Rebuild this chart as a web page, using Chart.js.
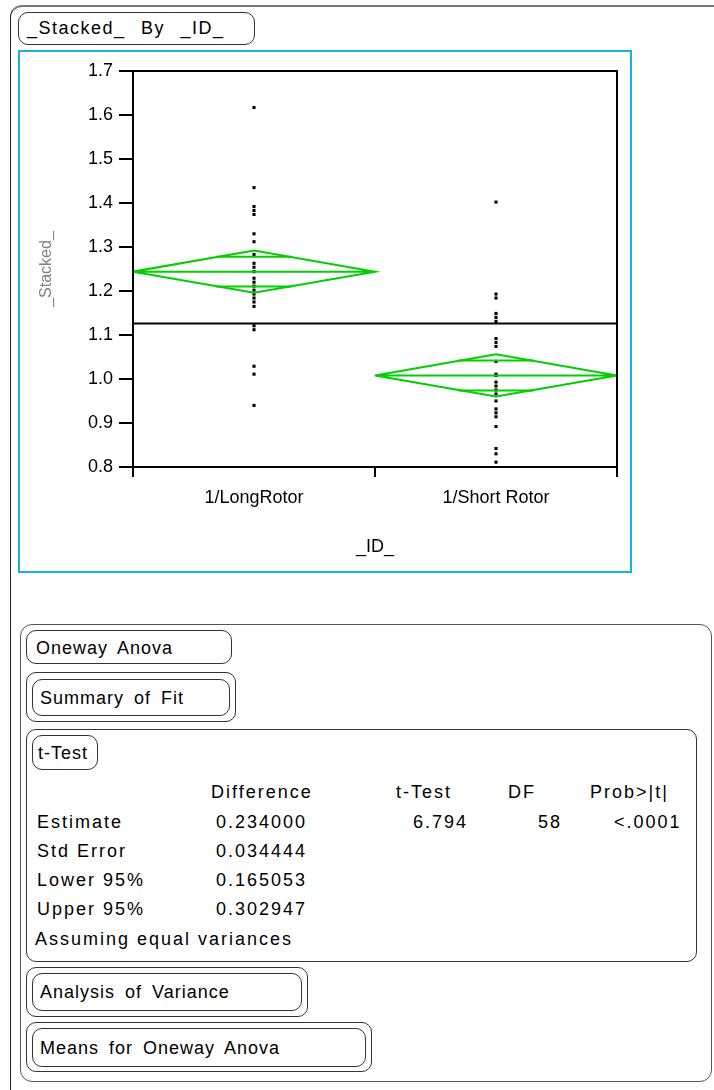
<!DOCTYPE html>
<html lang="en">
<head>
<meta charset="UTF-8">
<title>Oneway Analysis of _Stacked_ By _ID_</title>
<script src="https://cdn.jsdelivr.net/npm/chart.js"></script>
<style>
  body { margin: 0; width: 714px; height: 1090px; background: #fff; position: relative; overflow: hidden;
         font-family: "Liberation Sans", Arial, sans-serif; color: #000; }
  .abs { position: absolute; box-sizing: border-box; }
  .outer { left: 10px; top: 5px; width: 740px; height: 1120px; border-left: 1px solid #222; border-top: 2px solid #777; border-top-left-radius: 12px; }
  .box { border: 1px solid #333; border-radius: 10px; }
  .lbl { font-size: 18px; letter-spacing: 1px; word-spacing: 4px; line-height: 20px; white-space: nowrap; }
  .cell { font-size: 18px; letter-spacing: 2px; line-height: 20px; white-space: nowrap; }
  .blue { left: 18px; top: 50px; width: 614px; height: 523px; border: 2px solid #19b0ea; }
  #chart { position: absolute; left: 19px; top: 51px; }
</style>
</head>
<body>
<div class="abs outer"></div>
<div class="abs box" style="left:18px;top:12px;width:237px;height:33px;"></div>
<div class="abs lbl" style="left:27px;top:18px;word-spacing:9px;letter-spacing:1.5px;">_Stacked_ By _ID_</div>
<div class="abs blue"></div>
<canvas id="chart" width="612" height="521"></canvas>

<div class="abs box" style="left:20px;top:624px;width:692px;height:458px;border-color:#555;border-radius:12px;"></div>
<div class="abs box" style="left:26px;top:630px;width:206px;height:34px;"></div>
<div class="abs lbl" style="left:36px;top:638px;">Oneway Anova</div>

<div class="abs box" style="left:26px;top:672px;width:210px;height:50px;"></div>
<div class="abs box" style="left:32px;top:679px;width:198px;height:37px;"></div>
<div class="abs lbl" style="left:40px;top:688px;">Summary of Fit</div>

<div class="abs box" style="left:26px;top:729px;width:671px;height:233px;"></div>
<div class="abs box" style="left:32px;top:735px;width:66px;height:35px;"></div>
<div class="abs lbl" style="left:38px;top:743px;">t-Test</div>

<div class="abs cell" style="left:211px;top:782px;">Difference</div>
<div class="abs cell" style="left:396px;top:782px;">t-Test</div>
<div class="abs cell" style="left:508px;top:782px;">DF</div>
<div class="abs cell" style="left:590px;top:782px;">Prob&gt;|t|</div>

<div class="abs cell" style="left:37px;top:812px;">Estimate</div>
<div class="abs cell" style="left:216px;top:812px;">0.234000</div>
<div class="abs cell" style="left:413px;top:812px;">6.794</div>
<div class="abs cell" style="left:538px;top:812px;">58</div>
<div class="abs cell" style="left:614px;top:812px;">&lt;.0001</div>

<div class="abs cell" style="left:37px;top:841px;">Std Error</div>
<div class="abs cell" style="left:216px;top:841px;">0.034444</div>
<div class="abs cell" style="left:37px;top:870px;">Lower 95%</div>
<div class="abs cell" style="left:216px;top:870px;">0.165053</div>
<div class="abs cell" style="left:37px;top:899px;">Upper 95%</div>
<div class="abs cell" style="left:216px;top:899px;">0.302947</div>
<div class="abs cell" style="left:35px;top:929px;">Assuming equal variances</div>

<div class="abs box" style="left:26px;top:967px;width:282px;height:50px;"></div>
<div class="abs box" style="left:32px;top:973px;width:270px;height:38px;"></div>
<div class="abs lbl" style="left:40px;top:982px;">Analysis of Variance</div>

<div class="abs box" style="left:26px;top:1022px;width:346px;height:50px;"></div>
<div class="abs box" style="left:32px;top:1028px;width:334px;height:39px;"></div>
<div class="abs lbl" style="left:40px;top:1038px;">Means for Oneway Anova</div>

<script>
// groups and raw values
const groups = ['1/LongRotor', '1/Short Rotor'];
const longRotor = [1.617, 1.435, 1.392, 1.383, 1.374, 1.330, 1.312, 1.283, 1.263, 1.254, 1.244,
                   1.229, 1.220, 1.211, 1.202, 1.193, 1.184, 1.175, 1.165, 1.121, 1.112, 1.029, 1.011, 0.940];
const shortRotor = [1.402, 1.193, 1.184, 1.149, 1.140, 1.131, 1.092, 1.083, 1.074, 1.040, 1.011, 1.008,
                    0.993, 0.984, 0.975, 0.966, 0.950, 0.932, 0.923, 0.914, 0.892, 0.842, 0.830, 0.811];

// means diamonds
const groupMeans = [1.244, 1.008];
const ciUpper = [1.292, 1.056];
const ciLower = [1.196, 0.960];
const overlapUpper = [1.278, 1.042];
const overlapLower = [1.210, 0.974];
const grandMean = 1.126;

const yTicks = [0.8, 0.9, 1.0, 1.1, 1.2, 1.3, 1.4, 1.5, 1.6, 1.7];
const xTicks = [0, 0.5, 1, 1.5, 2];

const green = '#00d000';
const font = { family: '"Liberation Sans", Arial, sans-serif', size: 18 };

const datasets = [];

// grand mean line
datasets.push({
    type: 'line', data: [{ x: 0, y: grandMean }, { x: 2, y: grandMean }],
    borderColor: '#000', borderWidth: 2, pointRadius: 0, order: 1
});

groups.forEach((g, i) => {
    const m = groupMeans[i];
    // diamond outline + mean line
    datasets.push({
        type: 'line',
        data: [{ x: i, y: m }, { x: i + 0.5, y: ciUpper[i] }, { x: i + 1, y: m },
               { x: i + 0.5, y: ciLower[i] }, { x: i, y: m }, { x: i + 1, y: m }],
        borderColor: green, borderWidth: 2, pointRadius: 0, tension: 0, order: 2
    });
    // overlap marks, as wide as the diamond at that height
    [overlapUpper[i], overlapLower[i]].forEach(v => {
        const half = 0.5 * (1 - Math.abs(v - m) / (ciUpper[i] - m)) + 0.01;
        datasets.push({
            type: 'line', data: [{ x: i + 0.5 - half, y: v }, { x: i + 0.5 + half, y: v }],
            borderColor: green, borderWidth: 2, pointRadius: 0, order: 2
        });
    });
});

// raw points
[longRotor, shortRotor].forEach((vals, i) => {
    datasets.push({
        type: 'scatter',
        data: vals.map(v => ({ x: i + 0.5, y: v })),
        pointStyle: 'rect', pointRadius: 2.2, pointBorderWidth: 0,
        backgroundColor: '#000', borderColor: '#000', order: 3
    });
});

// full frame round the plot
const frame = {
    id: 'frame',
    afterDraw(chart) {
        const { ctx, chartArea: a } = chart;
        ctx.save();
        ctx.strokeStyle = '#000';
        ctx.lineWidth = 2;
        ctx.strokeRect(a.left, a.top, a.right - a.left, a.bottom - a.top);
        ctx.restore();
    }
};

new Chart(document.getElementById('chart'), {
    type: 'scatter',
    data: { datasets: datasets },
    plugins: [frame],
    options: {
        responsive: false,
        animation: false,
        layout: { padding: { top: 20, right: 14, left: 0, bottom: 0 } },
        plugins: { legend: { display: false }, tooltip: { enabled: false } },
        scales: {
            x: {
                type: 'linear', min: 0, max: 2,
                afterBuildTicks: s => { s.ticks = xTicks.map(v => ({ value: v })); },
                afterFit: s => { s.height = 105; },
                ticks: {
                    callback: v => (v % 1 ? groups[Math.floor(v)] : ''),
                    autoSkip: false, maxRotation: 0, color: '#000', font: font, padding: 10
                },
                grid: {
                    drawOnChartArea: false, tickLength: 10, lineWidth: 2,
                    color: c => (c.tick && c.tick.value % 1 ? 'rgba(0,0,0,0)' : '#000')
                },
                border: { color: '#000', width: 2 },
                title: { display: true, text: '_ID_', color: '#000', font: font, padding: { top: 0, bottom: 14 } }
            },
            y: {
                min: 0.8, max: 1.7,
                afterBuildTicks: s => { s.ticks = yTicks.map(v => ({ value: v })); },
                afterFit: s => { s.width = 114; },
                ticks: { callback: v => v.toFixed(1), color: '#000', font: font, padding: 6 },
                grid: { drawOnChartArea: false, tickLength: 14, lineWidth: 2, color: '#000' },
                border: { color: '#000', width: 2 },
                title: {
                    display: true, text: '_Stacked_', color: '#808080',
                    font: { family: font.family, size: 16 }, padding: { top: 18, bottom: 0 }
                }
            }
        }
    }
});
</script>
</body>
</html>
